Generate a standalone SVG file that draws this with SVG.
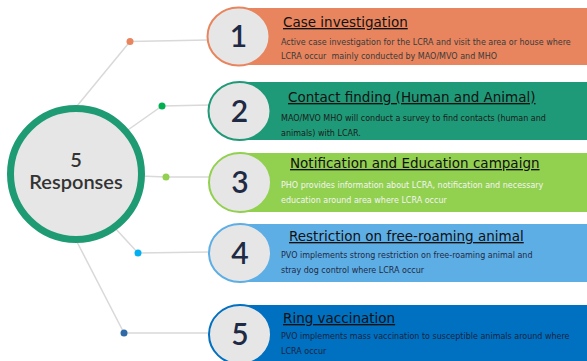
<svg xmlns="http://www.w3.org/2000/svg" width="587" height="361" viewBox="0 0 587 361">
<style>
.conn{fill:none;stroke:#d9d9d9;stroke-width:1.5}
.num{font-family:Lato,"DejaVu Sans",sans-serif;font-size:30px;font-weight:600;fill:#1f2a44;text-anchor:middle}
.title{font-family:"DejaVu Sans",sans-serif;font-size:13.5px;fill:#111111;text-decoration:underline}
.desc{font-family:"DejaVu Sans",sans-serif;font-size:8px}
.bub{fill:#e6e6e6;stroke-width:2}
</style>
<rect width="587" height="361" fill="#ffffff"/>
<g id="connectors">
<polyline class="conn" points="77,106 130,41.5 208,40"/>
<polyline class="conn" points="125,132 162,106 210,105"/>
<polyline class="conn" points="140,176 166,177 210,177"/>
<polyline class="conn" points="115,228 138,253 210,252"/>
<polyline class="conn" points="76,240 124,333 210,333"/>
<circle cx="130" cy="41.5" r="3.5" fill="#e8855e"/>
<circle cx="162" cy="106" r="3.5" fill="#00b050"/>
<circle cx="166" cy="177" r="3.5" fill="#92d050"/>
<circle cx="138" cy="253" r="3.5" fill="#00b0f0"/>
<circle cx="124" cy="333" r="3.5" fill="#2e6aa6"/>
</g>
<g id="center">
<circle cx="76" cy="174" r="65.5" fill="#e6e6e6" stroke="#1f9b74" stroke-width="7"/>
<text x="76" y="167" font-family="Lato,'DejaVu Sans',sans-serif" font-size="20" font-weight="600" fill="#333333" text-anchor="middle">5</text>
<text x="76" y="189" font-family="Lato,'DejaVu Sans',sans-serif" font-size="20" font-weight="600" fill="#333333" text-anchor="middle">Responses</text>
</g>
<g id="node1">
<rect x="238.5" y="8" width="349" height="57" fill="#e8855e"/>
<ellipse class="bub" cx="238.5" cy="36.5" rx="31" ry="29" stroke="#e8855e"/>
<text class="num" x="238.5" y="47">1</text>
<text class="title" x="283" y="27">Case investigation</text>
<text class="desc" x="281" y="45" fill="#3a3a3a">Active case investigation for the LCRA and visit the area or house where</text>
<text class="desc" x="281" y="59" fill="#3a3a3a" xml:space="preserve">LCRA occur  mainly conducted by MAO/MVO and MHO</text>
</g>
<g id="node2">
<rect x="239.5" y="82" width="348" height="58" fill="#1f9a78"/>
<ellipse class="bub" cx="239.5" cy="111" rx="31" ry="29" stroke="#1f9a78"/>
<text class="num" x="239.5" y="122">2</text>
<text class="title" x="288" y="102">Contact finding (Human and Animal)</text>
<text class="desc" x="281" y="121" fill="#1a1a1a">MAO/MVO MHO will conduct a survey to find contacts (human and</text>
<text class="desc" x="281" y="136" fill="#1a1a1a">animals) with LCAR.</text>
</g>
<g id="node3">
<rect x="240" y="153" width="347" height="59" fill="#92d050"/>
<ellipse class="bub" cx="240" cy="182.5" rx="31" ry="29.5" stroke="#92d050"/>
<text class="num" x="240" y="193">3</text>
<text class="title" x="290" y="168">Notification and Education campaign</text>
<text class="desc" x="281" y="188" fill="#f4f4f4">PHO provides information about LCRA, notification and necessary</text>
<text class="desc" x="281" y="203" fill="#f4f4f4">education around area where LCRA occur</text>
</g>
<g id="node4">
<rect x="240" y="224" width="347" height="58" fill="#5eaee6"/>
<ellipse class="bub" cx="240" cy="253" rx="31" ry="29" stroke="#5eaee6"/>
<text class="num" x="240" y="264">4</text>
<text class="title" x="289" y="241">Restriction on free-roaming animal</text>
<text class="desc" x="281" y="258" fill="#1f2a44">PVO implements strong restriction on free-roaming animal and</text>
<text class="desc" x="281" y="273" fill="#1f2a44">stray dog control where LCRA occur</text>
</g>
<g id="node5">
<rect x="240" y="305" width="347" height="60" fill="#0070c0"/>
<ellipse class="bub" cx="240" cy="334.5" rx="31" ry="29.5" stroke="#0070c0"/>
<text class="num" x="240" y="345">5</text>
<text class="title" x="283" y="323">Ring vaccination</text>
<text class="desc" x="281" y="339" fill="#1a2440">PVO implements mass vaccination to susceptible animals around where</text>
<text class="desc" x="281" y="354" fill="#1a2440">LCRA occur</text>
</g>
</svg>
